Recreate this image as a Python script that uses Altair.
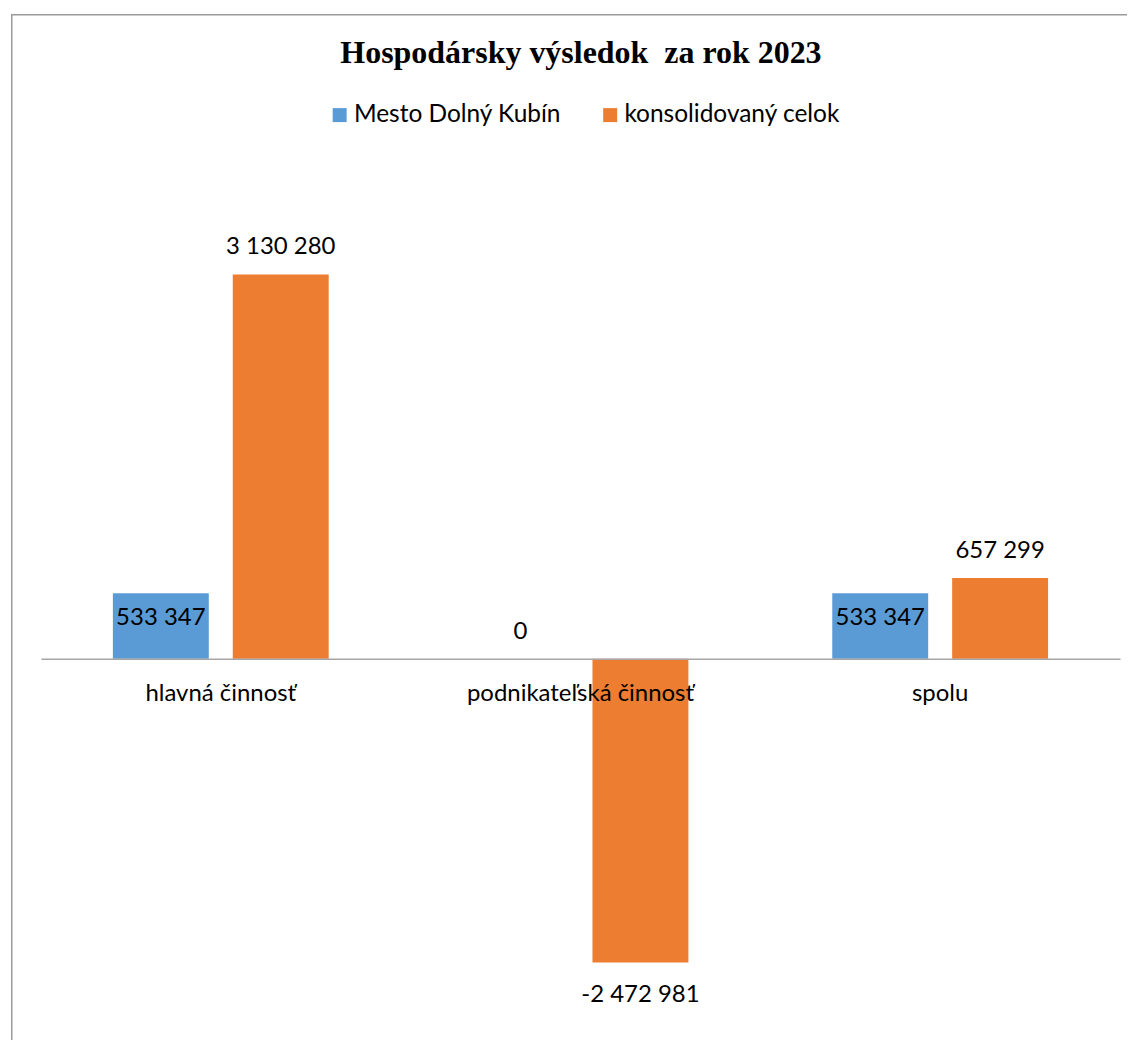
import altair as alt
import pandas as pd

categories = ["hlavná činnosť", "podnikateľská činnosť", "spolu"]
series_names = ["Mesto Dolný Kubín", "konsolidovaný celok"]
mesto_values = [533347, 0, 533347]
konsol_values = [3130280, -2472981, 657299]
colors = ["#5b9bd5", "#ed7d31"]
title_text = "Hospodársky výsledok\u00a0 za rok 2023"

rows = []
for cat, m, k in zip(categories, mesto_values, konsol_values):
    rows.append({"kategoria": cat, "seria": series_names[0], "hodnota": m})
    rows.append({"kategoria": cat, "seria": series_names[1], "hodnota": k})
df = pd.DataFrame(rows)
df["popis"] = df["hodnota"].map(lambda v: f"{v:,}".replace(",", " "))

FONT = "Lato"
W, H = 1118, 1028
ZERO = 646
K = 385 / 3130280
ymax = ZERO / K
ymin = -(H - ZERO) / K

x_enc = alt.X(
    "kategoria:N", sort=categories,
    scale=alt.Scale(range=[30, 1111], paddingInner=0, paddingOuter=0),
    axis=alt.Axis(title=None, orient="bottom", offset=-(H - ZERO), domainColor="#a6a6a6",
                  domainWidth=1.5, ticks=False, tickSize=0, labelAngle=0, labelFontSize=24,
                  labelFont=FONT, labelColor="#000000", labelPadding=23, labelLimit=500,
                  grid=False, zindex=1),
)
xoff = alt.XOffset("seria:N", sort=series_names, scale=alt.Scale(paddingInner=0.2, paddingOuter=0.6))
y_enc = alt.Y("hodnota:Q", scale=alt.Scale(domain=[ymin, ymax], nice=False, zero=False), axis=None)
color = alt.Color(
    "seria:N", sort=series_names,
    scale=alt.Scale(domain=series_names, range=colors),
    legend=alt.Legend(title=None, orient="none", legendX=317, legendY=89, direction="horizontal",
                      symbolType="square", symbolSize=196, symbolStrokeWidth=0,
                      labelFontSize=24.5, labelFont=FONT, labelColor="#000000",
                      columnPadding=36, labelOffset=2, padding=0, labelLimit=500),
)

base = alt.Chart(df).encode(x=x_enc, xOffset=xoff, y=y_enc)
bars = base.mark_bar().encode(color=color)

txt = dict(fontSize=24, font=FONT, color="black", baseline="middle")
lab_above = base.transform_filter(
    "(datum.hodnota > 0 && datum.seria == 'konsolidovaný celok') || datum.hodnota == 0"
).mark_text(dy=-27, **txt).encode(text="popis:N")
lab_inside = base.transform_filter(
    "datum.hodnota > 0 && datum.seria == 'Mesto Dolný Kubín'"
).mark_text(dy=25, **txt).encode(text="popis:N")
lab_below = base.transform_filter("datum.hodnota < 0").mark_text(dy=33, **txt).encode(text="popis:N")

frame_df = pd.DataFrame({"f": [0]})
frame_left = alt.Chart(frame_df).mark_rule(color="#9a9a9a", strokeWidth=1.5).encode(
    x=alt.value(0.75), y=alt.value(0), y2=alt.value(H))
frame_top = alt.Chart(frame_df).mark_rule(color="#9a9a9a", strokeWidth=1.5).encode(
    x=alt.value(0), x2=alt.value(W), y=alt.value(0.75))

chart = alt.layer(frame_left, frame_top, bars, lab_above, lab_inside, lab_below).properties(
    width=W, height=H,
    padding={"left": 2, "top": 4, "right": 0, "bottom": 0},
    title=alt.TitleParams(title_text, font="Liberation Serif", fontSize=32, fontWeight="bold",
                          anchor="middle", frame="group", offset=-57, dx=12, color="black"),
).configure(background="white").configure_view(stroke=None)

chart.save("out.html", embed_options={"renderer": "svg", "actions": False})
